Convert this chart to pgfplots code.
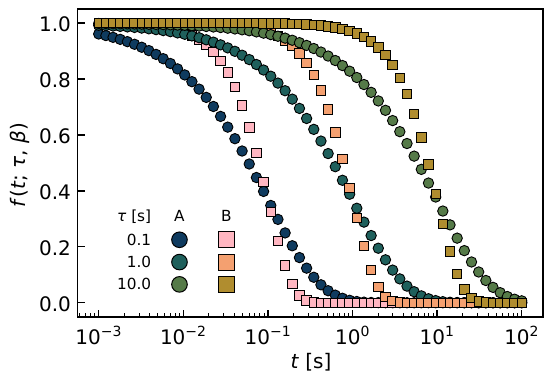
\documentclass[border=0pt]{standalone}
\usepackage{fontspec}
\setmainfont{DejaVu Sans}
\usepackage{pgfplots}
\usepackage{pgfplotstable}
\pgfplotsset{compat=1.18}
\definecolor{cA1}{HTML}{0F3B5F}
\definecolor{cA2}{HTML}{1F605C}
\definecolor{cA3}{HTML}{557A48}
\definecolor{cB1}{HTML}{FFB6C1}
\definecolor{cB2}{HTML}{F4A070}
\definecolor{cB3}{HTML}{B08D2F}

\pgfplotstableread{
t A1 B1 A2 B2 A3 B3
0.0010000 0.9610 0.9990 0.9921 1.0000 0.9984 1.0000
0.0012155 0.9554 0.9987 0.9909 1.0000 0.9982 1.0000
0.0014774 0.9490 0.9982 0.9896 0.9999 0.9979 1.0000
0.0017957 0.9418 0.9976 0.9881 0.9999 0.9976 1.0000
0.0021826 0.9336 0.9968 0.9864 0.9999 0.9973 1.0000
0.0026529 0.9242 0.9957 0.9844 0.9999 0.9969 1.0000
0.0032246 0.9136 0.9942 0.9821 0.9998 0.9964 1.0000
0.0039194 0.9016 0.9923 0.9795 0.9998 0.9959 1.0000
0.0047639 0.8880 0.9897 0.9766 0.9997 0.9953 1.0000
0.0057904 0.8727 0.9862 0.9732 0.9996 0.9946 1.0000
0.0070381 0.8555 0.9815 0.9693 0.9994 0.9938 1.0000
0.0085546 0.8362 0.9753 0.9649 0.9992 0.9929 1.0000
0.010398 0.8146 0.9670 0.9599 0.9989 0.9919 1.0000
0.012638 0.7905 0.9561 0.9542 0.9986 0.9907 1.0000
0.015362 0.7638 0.9416 0.9477 0.9981 0.9893 0.9999
0.018672 0.7343 0.9225 0.9402 0.9975 0.9878 0.9999
0.022695 0.7018 0.8975 0.9318 0.9966 0.9860 0.9999
0.027585 0.6663 0.8651 0.9222 0.9954 0.9840 0.9999
0.033529 0.6279 0.8235 0.9113 0.9939 0.9816 0.9998
0.040754 0.5866 0.7709 0.8990 0.9918 0.9790 0.9997
0.049535 0.5425 0.7057 0.8851 0.9890 0.9759 0.9997
0.060208 0.4961 0.6268 0.8695 0.9853 0.9725 0.9995
0.073182 0.4477 0.5347 0.8518 0.9804 0.9685 0.9994
0.088950 0.3980 0.4322 0.8321 0.9738 0.9640 0.9992
0.10812 0.3478 0.3249 0.8100 0.9651 0.9588 0.9989
0.13141 0.2980 0.2217 0.7854 0.9535 0.9529 0.9985
0.15973 0.2496 0.1328 0.7581 0.9382 0.9462 0.9980
0.19415 0.2037 0.0669 0.7280 0.9180 0.9386 0.9973
0.23598 0.1614 0.0266 0.6949 0.8917 0.9300 0.9964
0.28683 0.1236 0.0078 0.6589 0.8576 0.9201 0.9952
0.34863 0.0910 0.0015 0.6199 0.8140 0.9090 0.9935
0.42376 0.0641 0.0002 0.5780 0.7589 0.8964 0.9913
0.51506 0.0429 0.0000 0.5334 0.6910 0.8821 0.9884
0.62605 0.0270 0.0000 0.4865 0.6094 0.8661 0.9845
0.76094 0.0159 0.0000 0.4378 0.5149 0.8481 0.9792
0.92491 0.0087 0.0000 0.3880 0.4109 0.8279 0.9723
1.1242 0.0043 0.0000 0.3378 0.3036 0.8053 0.9630
1.3664 0.0020 0.0000 0.2882 0.2024 0.7802 0.9507
1.6609 0.0008 0.0000 0.2402 0.1176 0.7523 0.9346
2.0187 0.0003 0.0000 0.1949 0.0568 0.7216 0.9133
2.4537 0.0001 0.0000 0.1534 0.0214 0.6880 0.8855
2.9825 0.0000 0.0000 0.1166 0.0058 0.6513 0.8497
3.6251 0.0000 0.0000 0.0852 0.0010 0.6117 0.8039
4.4062 0.0000 0.0000 0.0594 0.0001 0.5693 0.7464
5.3556 0.0000 0.0000 0.0393 0.0000 0.5242 0.6757
6.5096 0.0000 0.0000 0.0245 0.0000 0.4769 0.5914
7.9123 0.0000 0.0000 0.0142 0.0000 0.4279 0.4947
9.6172 0.0000 0.0000 0.0076 0.0000 0.3779 0.3894
11.690 0.0000 0.0000 0.0037 0.0000 0.3278 0.2826
14.208 0.0000 0.0000 0.0016 0.0000 0.2784 0.1839
17.270 0.0000 0.0000 0.0006 0.0000 0.2309 0.1034
20.991 0.0000 0.0000 0.0002 0.0000 0.1863 0.0478
25.514 0.0000 0.0000 0.0001 0.0000 0.1457 0.0170
31.012 0.0000 0.0000 0.0000 0.0000 0.1099 0.0042
37.694 0.0000 0.0000 0.0000 0.0000 0.0795 0.0007
45.816 0.0000 0.0000 0.0000 0.0000 0.0549 0.0001
55.688 0.0000 0.0000 0.0000 0.0000 0.0359 0.0000
67.687 0.0000 0.0000 0.0000 0.0000 0.0221 0.0000
82.272 0.0000 0.0000 0.0000 0.0000 0.0126 0.0000
100.00 0.0000 0.0000 0.0000 0.0000 0.0067 0.0000
}\data

\begin{document}
\begin{tikzpicture}
\path[use as bounding box] (0,0) rectangle (552pt,386pt);
\begin{axis}[
  at={(77.55pt,69.3pt)}, anchor=south west,
  scale only axis, width=465.3pt, height=307.6pt,
  xmode=log, xmin=5.6234e-4, xmax=177.83, ymin=-0.05, ymax=1.05,
  axis line style={line width=1.8pt, black},
  tick align=inside, xtick pos=bottom, ytick pos=left,
  major tick length=7pt, minor tick length=4pt,
  tick style={black},
  major tick style={line width=1.3pt},
  minor tick style={line width=0.9pt},
  xtick={0.001,0.01,0.1,1,10,100},
  minor xtick={6e-4,7e-4,8e-4,9e-4,
    2e-3,3e-3,4e-3,5e-3,6e-3,7e-3,8e-3,9e-3,
    0.02,0.03,0.04,0.05,0.06,0.07,0.08,0.09,
    0.2,0.3,0.4,0.5,0.6,0.7,0.8,0.9,
    2,3,4,5,6,7,8,9,
    20,30,40,50,60,70,80,90},
  xticklabels={{10\textsuperscript{−3}},{10\textsuperscript{−2}},{10\textsuperscript{−1}},{10\textsuperscript{0}},{10\textsuperscript{1}},{10\textsuperscript{2}}},
  ytick={0,0.2,0.4,0.6,0.8,1},
  yticklabels={0.0,0.2,0.4,0.6,0.8,1.0},
  tick label style={font=\fontsize{20}{24}\selectfont},
  xticklabel style={inner sep=0pt, anchor=base, yshift=-27.8pt},
  yticklabel style={inner sep=0pt, anchor=base east, xshift=-6.5pt, yshift=-8.5pt},
  xlabel={\textit{t} [s]},
  ylabel={\textit{f}(\textit{t}; \textit{τ}, \textit{β})},
  label style={font=\fontsize{20}{24}\selectfont},
  xlabel style={at={(axis description cs:0.5017,-0.1473)}, anchor=center},
  ylabel style={at={(axis description cs:-0.1237,0.493)}, anchor=center},
  legend columns=3,
  legend cell align=right,
  legend style={at={(axis description cs:0.3405,0.3453)}, anchor=north east,
    draw=none, fill=none, inner sep=0pt, outer sep=0pt,
    column sep=0pt, row sep=5.3pt,
    font=\fontsize{15.3}{18}\selectfont,
    nodes={inner sep=0pt, text height=11pt, text depth=0pt}},
]
\addplot[forget plot, only marks, mark=*, mark size=5.2pt, draw=black, fill=cA1, line width=0.9pt] table[x=t, y=A1] {\data};
\addplot[forget plot, only marks, mark=square*, mark size=4.7pt, draw=black, fill=cB1, line width=0.9pt] table[x=t, y=B1] {\data};
\addplot[forget plot, only marks, mark=*, mark size=5.2pt, draw=black, fill=cA2, line width=0.9pt] table[x=t, y=A2] {\data};
\addplot[forget plot, only marks, mark=square*, mark size=4.7pt, draw=black, fill=cB2, line width=0.9pt] table[x=t, y=B2] {\data};
\addplot[forget plot, only marks, mark=*, mark size=5.2pt, draw=black, fill=cA3, line width=0.9pt] table[x=t, y=A3] {\data};
\addplot[forget plot, only marks, mark=square*, mark size=4.7pt, draw=black, fill=cB3, line width=0.9pt] table[x=t, y=B3] {\data};

\addlegendimage{empty legend}\addlegendentry{\textit{τ} [s]\hspace*{20pt}}
\addlegendimage{legend image code/.code={\path (0pt,-9.8pt); \node[anchor=center] at (0pt,0pt) {A};}}\addlegendentry{\hspace*{30.2pt}}
\addlegendimage{legend image code/.code={\path (0pt,-9.8pt); \node[anchor=center] at (0pt,0pt) {B};}}\addlegendentry{}
\addlegendimage{empty legend}\addlegendentry{0.1\hspace*{20pt}}
\addlegendimage{legend image code/.code={\draw[black, line width=1pt, fill=cA1] (0pt,0pt) circle (7.8pt);}}\addlegendentry{\hspace*{30.2pt}}
\addlegendimage{legend image code/.code={\draw[black, line width=1pt, fill=cB1] (-8pt,-8pt) rectangle (8pt,8pt);}}\addlegendentry{}
\addlegendimage{empty legend}\addlegendentry{1.0\hspace*{20pt}}
\addlegendimage{legend image code/.code={\draw[black, line width=1pt, fill=cA2] (0pt,0pt) circle (7.8pt);}}\addlegendentry{\hspace*{30.2pt}}
\addlegendimage{legend image code/.code={\draw[black, line width=1pt, fill=cB2] (-8pt,-8pt) rectangle (8pt,8pt);}}\addlegendentry{}
\addlegendimage{empty legend}\addlegendentry{10.0\hspace*{20pt}}
\addlegendimage{legend image code/.code={\draw[black, line width=1pt, fill=cA3] (0pt,0pt) circle (7.8pt);}}\addlegendentry{\hspace*{30.2pt}}
\addlegendimage{legend image code/.code={\draw[black, line width=1pt, fill=cB3] (-8pt,-8pt) rectangle (8pt,8pt);}}\addlegendentry{}
\end{axis}
\end{tikzpicture}
\end{document}
